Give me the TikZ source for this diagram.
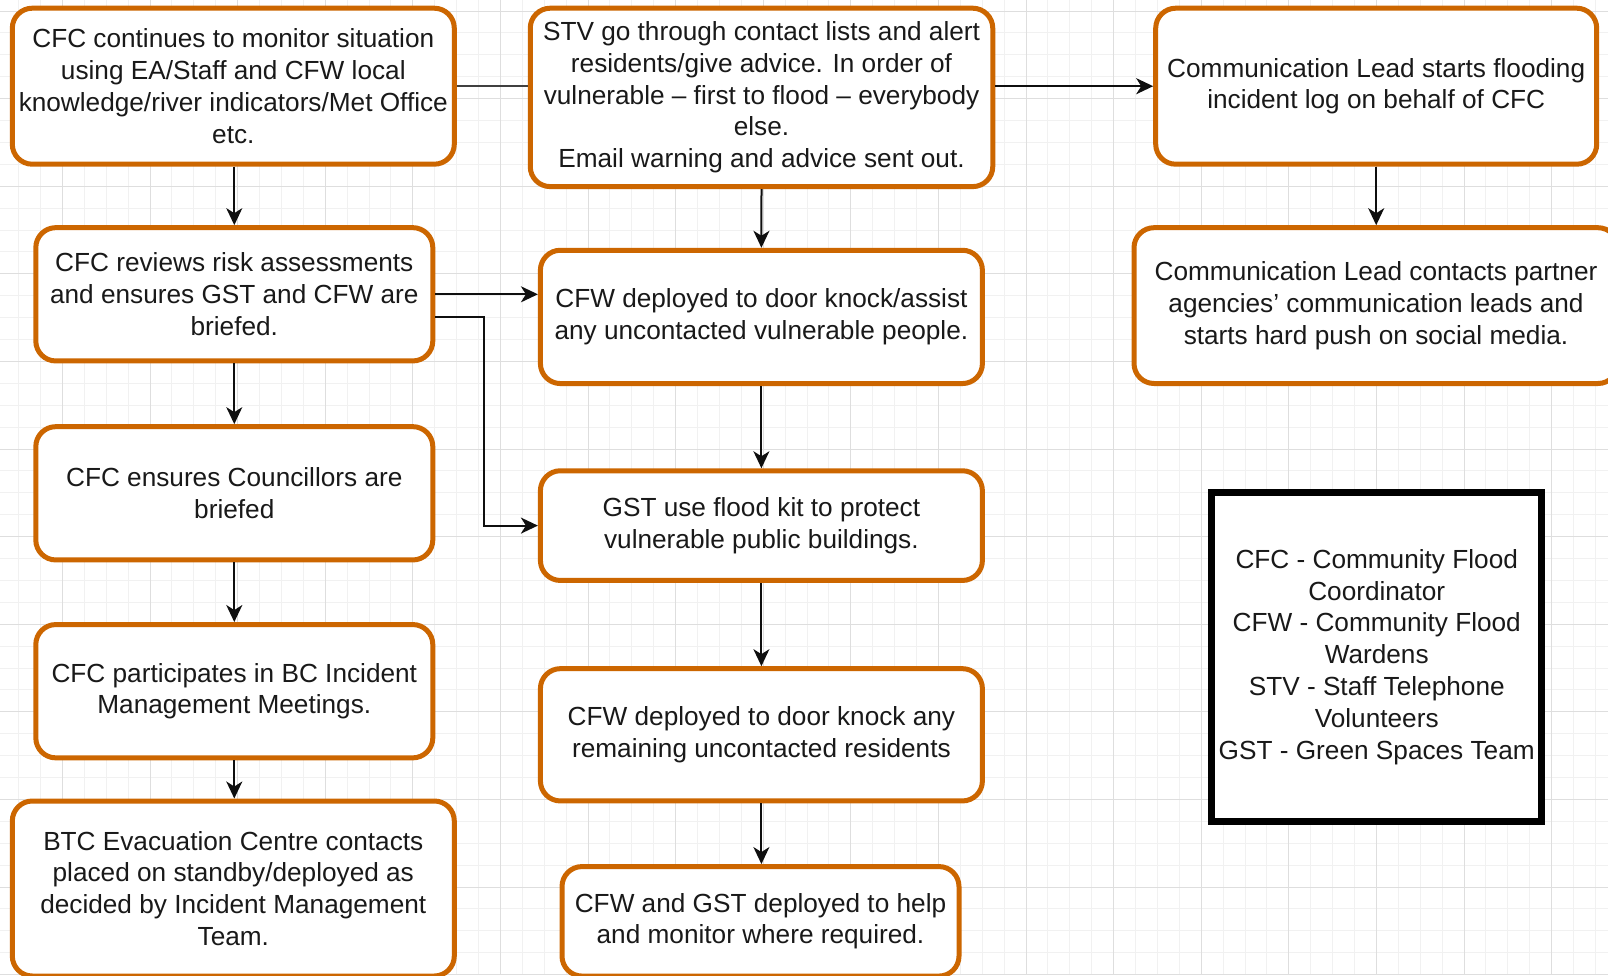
\documentclass[tikz,border=0pt]{standalone}
\usepackage{fontspec}
\setmainfont{Liberation Sans}
\usetikzlibrary{arrows.meta}
\definecolor{boxorange}{RGB}{204,102,0}
\definecolor{gridminor}{RGB}{241,241,241}
\definecolor{gridmajor}{RGB}{222,222,222}
\definecolor{linedark}{RGB}{15,15,15}
\tikzset{
  flowbox/.style={draw=boxorange, line width=5pt, rounded corners=20pt, fill=white,
    inner sep=0pt, align=center, font=\fontsize{26.2pt}{31.8pt}\selectfont, text=black!90},
  legendbox/.style={draw=black, line width=6.5pt, fill=white, inner sep=0pt, align=center,
    font=\fontsize{26.2pt}{31.8pt}\selectfont, text=black!90},
  arr/.style={draw=linedark, line width=2pt, -{Stealth[length=17pt,width=16pt,inset=5pt]}},
  plainline/.style={draw=black!75, line width=2pt}
}
\begin{document}
\begin{tikzpicture}[x=1pt,y=-1pt]
\useasboundingbox (0,0) rectangle (1608,975);
\fill[white] (0,0) rectangle (1608,975);
% grid
\foreach \i in {0,...,73} {
  \draw[gridminor, line width=1pt] ({18.6+21.9*\i},0) -- ({18.6+21.9*\i},975);
}
\foreach \j in {0,...,44} {
  \draw[gridminor, line width=1pt] (0,{11+21.9*\j}) -- (1608,{11+21.9*\j});
}
\foreach \i in {0,...,18} {
  \draw[gridmajor, line width=1pt] ({62.4+87.6*\i},0) -- ({62.4+87.6*\i},975);
}
\foreach \j in {0,...,11} {
  \draw[gridmajor, line width=1pt] (0,{11+87.6*\j}) -- (1608,{11+87.6*\j});
}

% boxes
\node[flowbox, minimum width=442pt, minimum height=156pt] (b1) at (233.3,86.2)
  {CFC continues to monitor situation\\using EA/Staff and CFW local\\knowledge/river indicators/Met Office\\etc.};
\node[flowbox, minimum width=462.5pt, minimum height=178.4pt] (b2) at (761.5,97.4)
  {STV go through contact lists and alert\\residents/give advice. In order of\\vulnerable – first to flood – everybody\\else.\\Email warning and advice sent out.};
\node[flowbox, minimum width=441pt, minimum height=156pt] (b3) at (1376.2,86.2)
  {\raisebox{-2pt}{}Communication Lead starts flooding\\incident log on behalf of CFC};
\node[flowbox, minimum width=484pt, minimum height=155.8pt] (b4) at (1376,305.6)
  {Communication Lead contacts partner\\agencies’ communication leads and\\starts hard push on social media.};
\node[flowbox, minimum width=397pt, minimum height=133.3pt] (b5) at (234.3,294.3)
  {CFC reviews risk assessments\\and ensures GST and CFW are\\briefed.};
\node[flowbox, minimum width=442pt, minimum height=133.3pt] (b6) at (761.4,316.9)
  {CFW deployed to door knock/assist\\any uncontacted vulnerable people.};
\node[flowbox, minimum width=397pt, minimum height=133.3pt] (b7) at (234.3,493.3)
  {CFC ensures Councillors are\\briefed};
\node[flowbox, minimum width=442pt, minimum height=109.7pt] (b8) at (761.4,525.6)
  {GST use flood kit to protect\\vulnerable public buildings.};
\node[flowbox, minimum width=397pt, minimum height=133.3pt] (b9) at (234.3,691.2)
  {CFC participates in BC Incident\\Management Meetings.};
\node[flowbox, minimum width=442pt, minimum height=132.3pt] (b10) at (761.4,734.8)
  {CFW deployed to door knock any\\remaining uncontacted residents};
\node[flowbox, minimum width=442pt, minimum height=175pt] (b11) at (233.3,888.5)
  {BTC Evacuation Centre contacts\\placed on standby/deployed as\\decided by Incident Management\\Team.};
\node[flowbox, minimum width=397pt, minimum height=109.5pt] (b12) at (760.5,921.3)
  {CFW and GST deployed to help\\and monitor where required.};
\node[legendbox, minimum width=330pt, minimum height=329pt] (leg) at (1376.7,657)
  {CFC - Community Flood\\Coordinator\\CFW - Community Flood\\Wardens\\STV - Staff Telephone\\Volunteers\\GST - Green Spaces Team};

% connectors
\draw[arr] (b5.north |- b1.south) -- (b5.north);
\draw[plainline] (b1.east) -- (b1.east -| b2.west);
\draw[arr] (b2.east |- b3.west) -- (b3.west);
\draw[arr] (b2.south) -- (b6.north);
\draw[arr] (b5.east) -- (b5.east -| b6.west);
\draw[arr] ([yshift=-23pt]b5.east) -- ++(49pt,0) |- (b8.west);
\draw[arr] (b5.south) -- (b7.north);
\draw[arr] (b6.south) -- (b8.north);
\draw[arr] (b7.south) -- (b9.north);
\draw[arr] (b8.south) -- (b10.north);
\draw[arr] (b9.south) -- (b9.south |- b11.north);
\draw[arr] (b10.south) -- (b10.south |- b12.north);
\draw[arr] (b3.south) -- (b3.south |- b4.north);
\end{tikzpicture}
\end{document}
